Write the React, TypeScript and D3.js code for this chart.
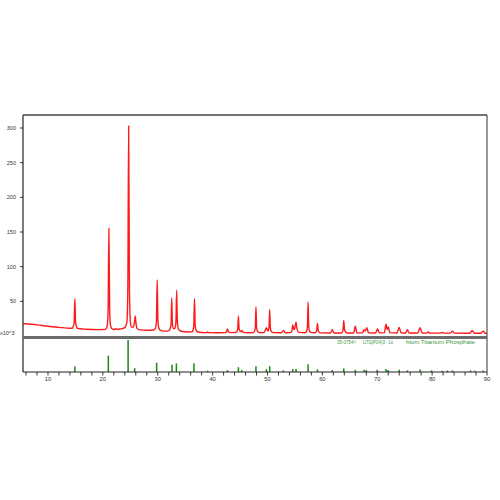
import React from "react";
import * as d3 from "d3";

const xrdPattern: [number, number][] = [
  [5.5, 18], [8, 16], [10, 14], [12, 12.5], [14, 11.2],
  [14.45, 11.2], [14.62, 14], [14.77, 20], [14.9, 54], [15.03, 20], [15.18, 14], [15.4, 10.8],
  [17, 9.8], [19, 9.2], [20.3, 9.3],
  [20.65, 11], [20.82, 16], [20.96, 38], [21.1, 155], [21.24, 38], [21.38, 16], [21.6, 11],
  [21.9, 9.4], [22.1, 9.4], [22.3, 11], [22.5, 9.5], [23.3, 10.2],
  [24.0, 12], [24.38, 20], [24.55, 66], [24.7, 303], [24.85, 66], [25.02, 20], [25.22, 13], [25.45, 12.5],
  [25.65, 15], [25.8, 22], [25.9, 29], [26.0, 21], [26.2, 11.5], [26.6, 9.2],
  [28, 8.2], [29.2, 8.6],
  [29.58, 11], [29.76, 21], [29.9, 81], [30.04, 21], [30.22, 11], [30.6, 7.8],
  [31.5, 7], [32.05, 7.8],
  [32.28, 11], [32.44, 18], [32.55, 55], [32.67, 18], [32.88, 10.5],
  [33.1, 11], [33.32, 20], [33.45, 66], [33.58, 20], [33.8, 9.5], [34.3, 6.8],
  [35.5, 5.7], [36.2, 5.9],
  [36.42, 8], [36.57, 15], [36.7, 54], [36.83, 15], [37.0, 8], [37.5, 5.4],
  [38.5, 4.9], [38.9, 4.9], [39.1, 6], [39.3, 4.9], [41, 4.7], [42.3, 4.8],
  [42.5, 5.8], [42.7, 10], [42.9, 5.8], [43.3, 4.8], [44.2, 5],
  [44.42, 6.5], [44.58, 10], [44.7, 29], [44.83, 10], [45.05, 6.5], [45.3, 8], [45.55, 5.2],
  [46.5, 4.7], [47.4, 4.9],
  [47.62, 6.5], [47.78, 12], [47.9, 42], [48.02, 12], [48.2, 6.5], [48.6, 4.9],
  [49.4, 4.9], [49.8, 12], [50.05, 7.5],
  [50.15, 8], [50.28, 13], [50.4, 38], [50.52, 12], [50.7, 6.5], [51.1, 4.8],
  [52.5, 4.6], [52.9, 8], [53.3, 4.6], [54.2, 4.8],
  [54.45, 7.5], [54.6, 16], [54.8, 10], [54.9, 9.5], [55.2, 20], [55.38, 10], [55.7, 5.2],
  [56.8, 4.6],
  [57.12, 6.5], [57.28, 13.3], [57.4, 49], [57.52, 13.3], [57.7, 6.5], [58.1, 4.8], [58.7, 4.6],
  [58.95, 7.5], [59.1, 18], [59.25, 7.5], [59.6, 4.5],
  [61.5, 4.3], [61.8, 9], [62.1, 4.4], [63.5, 4.4],
  [63.75, 8.5], [63.9, 22], [64.05, 8.5], [64.5, 4.4],
  [65.7, 4.4], [66.0, 14], [66.3, 4.5], [67.3, 4.7], [67.6, 9], [67.8, 7], [68.1, 12], [68.4, 4.6],
  [69.7, 4.4], [70.05, 10], [70.4, 4.5], [71.3, 4.8], [71.6, 17], [71.8, 9.5], [72.0, 13], [72.3, 4.8],
  [73.6, 4.4], [74.0, 12.5], [74.35, 4.5], [75.2, 4.4], [75.5, 9], [75.8, 4.4],
  [77.4, 4.3], [77.8, 12], [78.2, 4.4], [79.0, 4.2], [79.3, 6], [79.6, 4.2],
  [81.4, 4.1], [81.8, 5.2], [82.2, 4.1], [83.3, 4.2], [83.7, 7], [84.1, 4.2],
  [86.9, 4], [87.3, 8], [87.7, 4], [88.9, 4], [89.3, 7], [89.7, 3.8], [90, 3.7],
];

const stickPos = [14.9, 21.0, 24.6, 25.8, 29.8, 32.6, 33.4, 36.6, 39.1, 42.7, 44.7, 45.3, 47.9, 49.8, 50.4, 52.9, 54.6, 55.2, 57.4, 59.1, 61.8, 63.9, 66.0, 67.6, 68.0, 70.0, 71.6, 72.0, 74.0, 75.5, 77.8, 79.9, 81.8, 82.8, 83.7, 87.0, 87.8, 89.3];
const stickInt = [17, 51, 100, 12, 29, 23, 27, 27, 4, 6, 15, 6, 18, 9, 18, 5, 9, 9, 24, 8, 6, 11, 7, 7, 6, 7, 9, 6, 7, 5, 8, 5, 4, 5, 5, 5, 4, 5];

const yTicks = [50, 100, 150, 200, 250, 300];
const xLabelTicks = [10, 20, 30, 40, 50, 60, 70, 80, 90];
const unitLabel = "x10^3";
const refCode = "35-0754>";
const refNameA = "LiTi2(PO4)3 - Lit";
const refNameB = "hium Titanium Phosphate";

export default function App() {
  const left = 23, right = 487, top = 115, zeroY = 336, bottomAxis = 372;
  const x = d3.scaleLinear().domain([5.45, 90]).range([left, right]);
  const y = d3.scaleLinear().domain([0, 300]).range([zeroY, zeroY - 208]);
  const yb = d3.scaleLinear().domain([0, 100]).range([bottomAxis, 340]);
  const line = d3.line<[number, number]>().x(d => x(d[0])).y(d => y(d[1])).curve(d3.curveMonotoneX);
  const minor = d3.range(6, 91, 2);
  const font = "Liberation Sans, Arial, sans-serif";
  return (
    <svg width={500} height={500} style={{ position: "absolute", left: 0, top: 0, background: "#fff" }} fontFamily={font}>
      <defs>
        <clipPath id="clipTop"><rect x={left} y={top} width={right - left} height={zeroY - top} /></clipPath>
      </defs>
      <path d={line(xrdPattern) || ""} fill="none" stroke="#ff1a1a" strokeWidth={1.4} clipPath="url(#clipTop)" />
      {stickPos.map((p, i) => (
        <line key={i} x1={x(p)} x2={x(p)} y1={bottomAxis} y2={yb(stickInt[i])} stroke="#1a861a" strokeWidth={1.5} />
      ))}
      <line x1={left} x2={right} y1={top} y2={top} stroke="#444" strokeWidth={1.6} />
      <line x1={right} x2={right} y1={top} y2={bottomAxis} stroke="#333" strokeWidth={1} />
      <line x1={left} x2={left} y1={top} y2={bottomAxis} stroke="#222" strokeWidth={1.2} />
      <rect x={left} y={zeroY} width={right - left} height={3} fill="#6b6b6b" />
      <line x1={left} x2={right} y1={bottomAxis} y2={bottomAxis} stroke="#222" strokeWidth={1} />
      {minor.map(t => (
        <line key={t} x1={x(t)} x2={x(t)} y1={bottomAxis} y2={bottomAxis + 3.5} stroke="#222" strokeWidth={0.9} />
      ))}
      {xLabelTicks.map(t => (
        <text key={t} x={x(t)} y={381} fontSize={5.8} textAnchor="middle" fill="#333">{t}</text>
      ))}
      {yTicks.map(t => (
        <g key={t}>
          <line x1={left - 3} x2={left} y1={y(t)} y2={y(t)} stroke="#222" strokeWidth={0.9} />
          <text x={16} y={y(t) + 2} fontSize={5.5} textAnchor="end" fill="#333">{t}</text>
        </g>
      ))}
      <text x={0} y={335} fontSize={5.5} fill="#333">{unitLabel}</text>
      <text x={337} y={344} fontSize={4.8} fill="#3a9a3a" textLength={19} lengthAdjust="spacingAndGlyphs">{refCode}</text>
      <text x={363} y={344} fontSize={4.8} fill="#3a9a3a" textLength={30} lengthAdjust="spacingAndGlyphs">{refNameA}</text>
      <text x={406} y={344} fontSize={4.8} fill="#3a9a3a" textLength={69} lengthAdjust="spacingAndGlyphs">{refNameB}</text>
    </svg>
  );
}
